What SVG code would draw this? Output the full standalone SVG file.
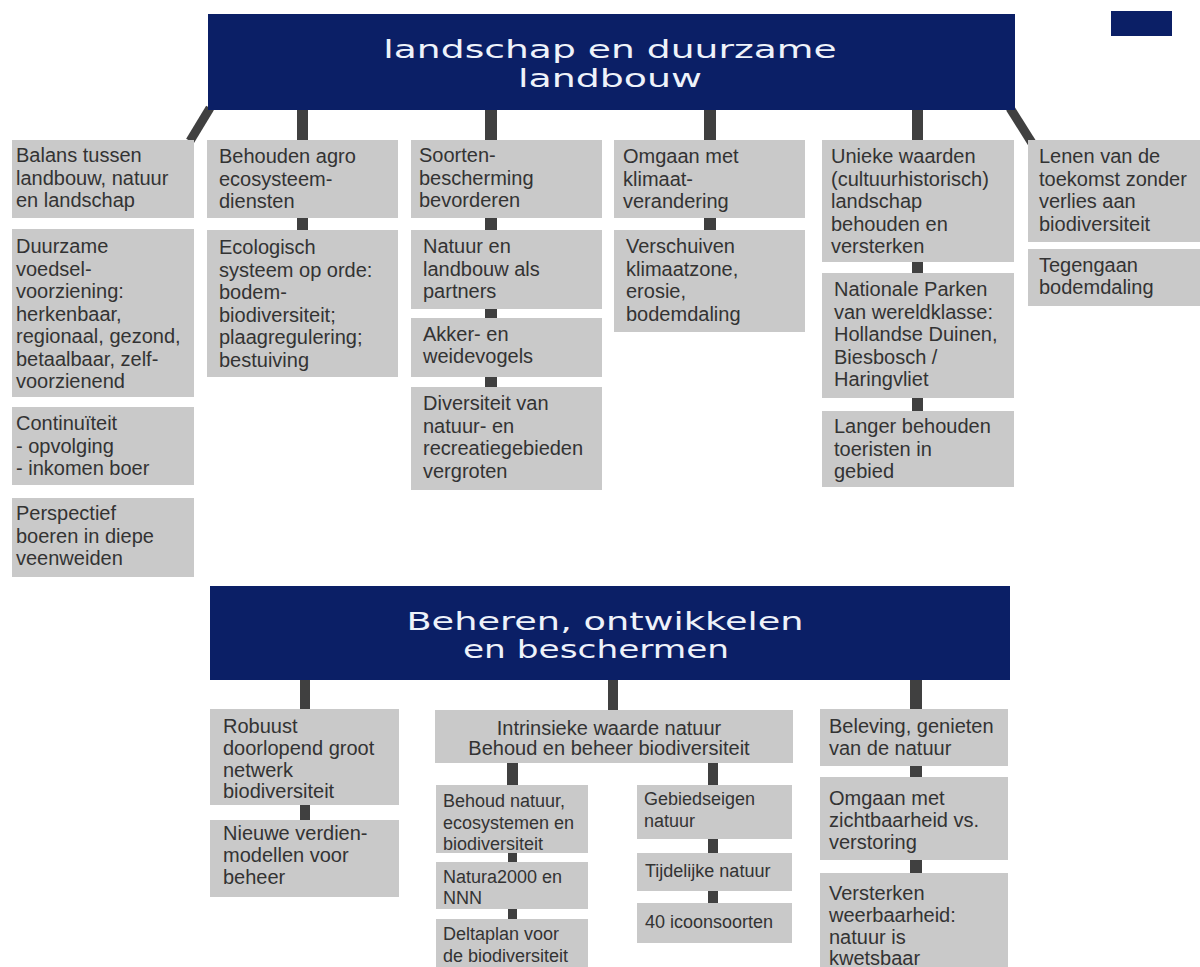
<svg xmlns="http://www.w3.org/2000/svg" width="1200" height="967" viewBox="0 0 1200 967">
<style>
.hdr{fill:#0b1f66}
.box{fill:#c9c9c9}
.t{font-family:"Liberation Sans",Arial,sans-serif;font-size:20px;fill:#333333}
.s{font-family:"Liberation Sans",Arial,sans-serif;font-size:18px;fill:#333333}
.h{font-family:"DejaVu Sans",sans-serif;font-weight:normal;fill:#eef2fa}
.c{fill:#404040}
.d{stroke:#404040;stroke-width:9;fill:none}
</style>
<rect width="1200" height="967" fill="#ffffff"/>
<rect x="1111" y="11" width="61" height="25" class="hdr"/>

<g id="connectors">
  <path class="d" d="M210 108 L190 141"/>
  <path class="d" d="M1010 108 L1032 143"/>
  <rect class="c" x="297" y="110" width="11" height="30"/>
  <rect class="c" x="485" y="110" width="12" height="30"/>
  <rect class="c" x="704" y="110" width="12" height="30"/>
  <rect class="c" x="912" y="110" width="11" height="30"/>
  <rect class="c" x="297" y="218" width="11" height="12"/>
  <rect class="c" x="485" y="218" width="12" height="12"/>
  <rect class="c" x="485" y="309" width="12" height="9"/>
  <rect class="c" x="485" y="377" width="12" height="10"/>
  <rect class="c" x="704" y="218" width="12" height="12"/>
  <rect class="c" x="912" y="262" width="11" height="11"/>
  <rect class="c" x="912" y="398" width="11" height="13"/>
  <rect class="c" x="300" y="680" width="10" height="29"/>
  <rect class="c" x="608" y="680" width="10" height="30"/>
  <rect class="c" x="910" y="680" width="12" height="29"/>
  <rect class="c" x="300" y="805" width="10" height="15"/>
  <rect class="c" x="507" y="763" width="11" height="22"/>
  <rect class="c" x="708" y="763" width="10" height="22"/>
  <rect class="c" x="508" y="853" width="9" height="9"/>
  <rect class="c" x="508" y="909" width="9" height="10"/>
  <rect class="c" x="708" y="839" width="10" height="14"/>
  <rect class="c" x="708" y="891" width="10" height="12"/>
  <rect class="c" x="910" y="766" width="12" height="11"/>
  <rect class="c" x="910" y="860" width="12" height="13"/>
</g>

<g id="header-top">
  <rect class="hdr" x="208" y="14" width="807" height="96"/>
  <text class="h" font-size="24" text-anchor="middle" transform="translate(610 58) scale(1.57 1)">landschap en duurzame</text>
  <text class="h" font-size="24" text-anchor="middle" transform="translate(610 87) scale(1.58 1)">landbouw</text>
</g>

<g id="balans">
  <rect class="box" x="12" y="140" width="182" height="78"/>
  <text class="t"><tspan x="16" y="162">Balans tussen</tspan><tspan x="16" y="184.5">landbouw, natuur</tspan><tspan x="16" y="207">en landschap</tspan></text>
</g>
<g id="duurzame">
  <rect class="box" x="12" y="229" width="182" height="168"/>
  <text class="t"><tspan x="16" y="253">Duurzame</tspan><tspan x="16" y="275.5">voedsel-</tspan><tspan x="16" y="298">voorziening:</tspan><tspan x="16" y="320.5">herkenbaar,</tspan><tspan x="16" y="343">regionaal, gezond,</tspan><tspan x="16" y="365.5">betaalbaar, zelf-</tspan><tspan x="16" y="388">voorzienend</tspan></text>
</g>
<g id="continuiteit">
  <rect class="box" x="12" y="407" width="182" height="78"/>
  <text class="t"><tspan x="16" y="430">Continuïteit</tspan><tspan x="16" y="452.5">- opvolging</tspan><tspan x="16" y="475">- inkomen boer</tspan></text>
</g>
<g id="perspectief">
  <rect class="box" x="12" y="498" width="182" height="79"/>
  <text class="t"><tspan x="16" y="520">Perspectief</tspan><tspan x="16" y="542.5">boeren in diepe</tspan><tspan x="16" y="565">veenweiden</tspan></text>
</g>

<g id="behouden-agro">
  <rect class="box" x="207" y="140" width="191" height="78"/>
  <text class="t"><tspan x="219" y="163">Behouden agro</tspan><tspan x="219" y="185.5">ecosysteem-</tspan><tspan x="219" y="208">diensten</tspan></text>
</g>
<g id="ecologisch">
  <rect class="box" x="207" y="230" width="191" height="147"/>
  <text class="t"><tspan x="219" y="254">Ecologisch</tspan><tspan x="219" y="276.5">systeem op orde:</tspan><tspan x="219" y="299">bodem-</tspan><tspan x="219" y="321.5">biodiversiteit;</tspan><tspan x="219" y="344">plaagregulering;</tspan><tspan x="219" y="366.5">bestuiving</tspan></text>
</g>

<g id="soorten">
  <rect class="box" x="411" y="140" width="191" height="78"/>
  <text class="t"><tspan x="419" y="162">Soorten-</tspan><tspan x="419" y="184.5">bescherming</tspan><tspan x="419" y="207">bevorderen</tspan></text>
</g>
<g id="natuur-landbouw">
  <rect class="box" x="411" y="230" width="191" height="79"/>
  <text class="t"><tspan x="423" y="253">Natuur en</tspan><tspan x="423" y="275.5">landbouw als</tspan><tspan x="423" y="298">partners</tspan></text>
</g>
<g id="akker">
  <rect class="box" x="411" y="318" width="191" height="59"/>
  <text class="t"><tspan x="423" y="340.5">Akker- en</tspan><tspan x="423" y="363">weidevogels</tspan></text>
</g>
<g id="diversiteit">
  <rect class="box" x="411" y="387" width="191" height="103"/>
  <text class="t"><tspan x="423" y="410">Diversiteit van</tspan><tspan x="423" y="432.5">natuur- en</tspan><tspan x="423" y="455">recreatiegebieden</tspan><tspan x="423" y="477.5">vergroten</tspan></text>
</g>

<g id="omgaan-klimaat">
  <rect class="box" x="614" y="140" width="191" height="78"/>
  <text class="t"><tspan x="623" y="163">Omgaan met</tspan><tspan x="623" y="185.5">klimaat-</tspan><tspan x="623" y="208">verandering</tspan></text>
</g>
<g id="verschuiven">
  <rect class="box" x="614" y="230" width="191" height="102"/>
  <text class="t"><tspan x="626" y="253">Verschuiven</tspan><tspan x="626" y="275.5">klimaatzone,</tspan><tspan x="626" y="298">erosie,</tspan><tspan x="626" y="320.5">bodemdaling</tspan></text>
</g>

<g id="unieke">
  <rect class="box" x="822" y="140" width="192" height="122"/>
  <text class="t"><tspan x="831" y="163">Unieke waarden</tspan><tspan x="831" y="185.5">(cultuurhistorisch)</tspan><tspan x="831" y="208">landschap</tspan><tspan x="831" y="230.5">behouden en</tspan><tspan x="831" y="253">versterken</tspan></text>
</g>
<g id="nationale-parken">
  <rect class="box" x="822" y="273" width="192" height="125"/>
  <text class="t"><tspan x="834" y="296">Nationale Parken</tspan><tspan x="834" y="318.5">van wereldklasse:</tspan><tspan x="834" y="341">Hollandse Duinen,</tspan><tspan x="834" y="363.5">Biesbosch /</tspan><tspan x="834" y="386">Haringvliet</tspan></text>
</g>
<g id="langer">
  <rect class="box" x="822" y="411" width="192" height="76"/>
  <text class="t"><tspan x="834" y="433">Langer behouden</tspan><tspan x="834" y="455.5">toeristen in</tspan><tspan x="834" y="478">gebied</tspan></text>
</g>

<g id="lenen">
  <rect class="box" x="1028" y="140" width="172" height="102"/>
  <text class="t"><tspan x="1039" y="163">Lenen van de</tspan><tspan x="1039" y="185.5">toekomst zonder</tspan><tspan x="1039" y="208">verlies aan</tspan><tspan x="1039" y="230.5">biodiversiteit</tspan></text>
</g>
<g id="tegengaan">
  <rect class="box" x="1028" y="249" width="172" height="57"/>
  <text class="t"><tspan x="1039" y="271.5">Tegengaan</tspan><tspan x="1039" y="294">bodemdaling</tspan></text>
</g>

<g id="header-bottom">
  <rect class="hdr" x="210" y="586" width="800" height="94"/>
  <text class="h" font-size="24" text-anchor="middle" transform="translate(605 630) scale(1.53 1)">Beheren, ontwikkelen</text>
  <text class="h" font-size="24" text-anchor="middle" transform="translate(596 658) scale(1.43 1)">en beschermen</text>
</g>

<g id="robuust">
  <rect class="box" x="210" y="709" width="189" height="96"/>
  <text class="t"><tspan x="223" y="733">Robuust</tspan><tspan x="223" y="755">doorlopend groot</tspan><tspan x="223" y="776.5">netwerk</tspan><tspan x="223" y="798">biodiversiteit</tspan></text>
</g>
<g id="nieuwe">
  <rect class="box" x="210" y="820" width="189" height="77"/>
  <text class="t"><tspan x="223" y="840">Nieuwe verdien-</tspan><tspan x="223" y="862">modellen voor</tspan><tspan x="223" y="883.5">beheer</tspan></text>
</g>
<g id="intrinsieke">
  <rect class="box" x="435" y="710" width="358" height="53"/>
  <text class="t" text-anchor="middle"><tspan x="609" y="735">Intrinsieke waarde natuur</tspan><tspan x="609" y="755">Behoud en beheer biodiversiteit</tspan></text>
</g>
<g id="behoud-natuur">
  <rect class="box" x="436" y="785" width="152" height="68"/>
  <text class="s"><tspan x="443" y="807">Behoud natuur,</tspan><tspan x="443" y="828.5">ecosystemen en</tspan><tspan x="443" y="850">biodiversiteit</tspan></text>
</g>
<g id="natura2000">
  <rect class="box" x="436" y="862" width="152" height="47"/>
  <text class="s"><tspan x="443" y="883">Natura2000 en</tspan><tspan x="443" y="904">NNN</tspan></text>
</g>
<g id="deltaplan">
  <rect class="box" x="436" y="919" width="152" height="48"/>
  <text class="s"><tspan x="443" y="940">Deltaplan voor</tspan><tspan x="443" y="962">de biodiversiteit</tspan></text>
</g>
<g id="gebiedseigen">
  <rect class="box" x="637" y="785" width="155" height="54"/>
  <text class="s"><tspan x="644" y="805">Gebiedseigen</tspan><tspan x="644" y="827">natuur</tspan></text>
</g>
<g id="tijdelijke">
  <rect class="box" x="637" y="853" width="155" height="38"/>
  <text class="s" x="645" y="877">Tijdelijke natuur</text>
</g>
<g id="icoonsoorten">
  <rect class="box" x="637" y="903" width="155" height="40"/>
  <text class="s" x="645" y="928">40 icoonsoorten</text>
</g>
<g id="beleving">
  <rect class="box" x="820" y="709" width="188" height="57"/>
  <text class="t"><tspan x="829" y="733">Beleving, genieten</tspan><tspan x="829" y="755">van de natuur</tspan></text>
</g>
<g id="zichtbaarheid">
  <rect class="box" x="820" y="777" width="188" height="83"/>
  <text class="t"><tspan x="829" y="805">Omgaan met</tspan><tspan x="829" y="827">zichtbaarheid vs.</tspan><tspan x="829" y="848.5">verstoring</tspan></text>
</g>
<g id="versterken">
  <rect class="box" x="820" y="873" width="188" height="94"/>
  <text class="t"><tspan x="829" y="900">Versterken</tspan><tspan x="829" y="922">weerbaarheid:</tspan><tspan x="829" y="943.5">natuur is</tspan><tspan x="829" y="965">kwetsbaar</tspan></text>
</g>
</svg>
